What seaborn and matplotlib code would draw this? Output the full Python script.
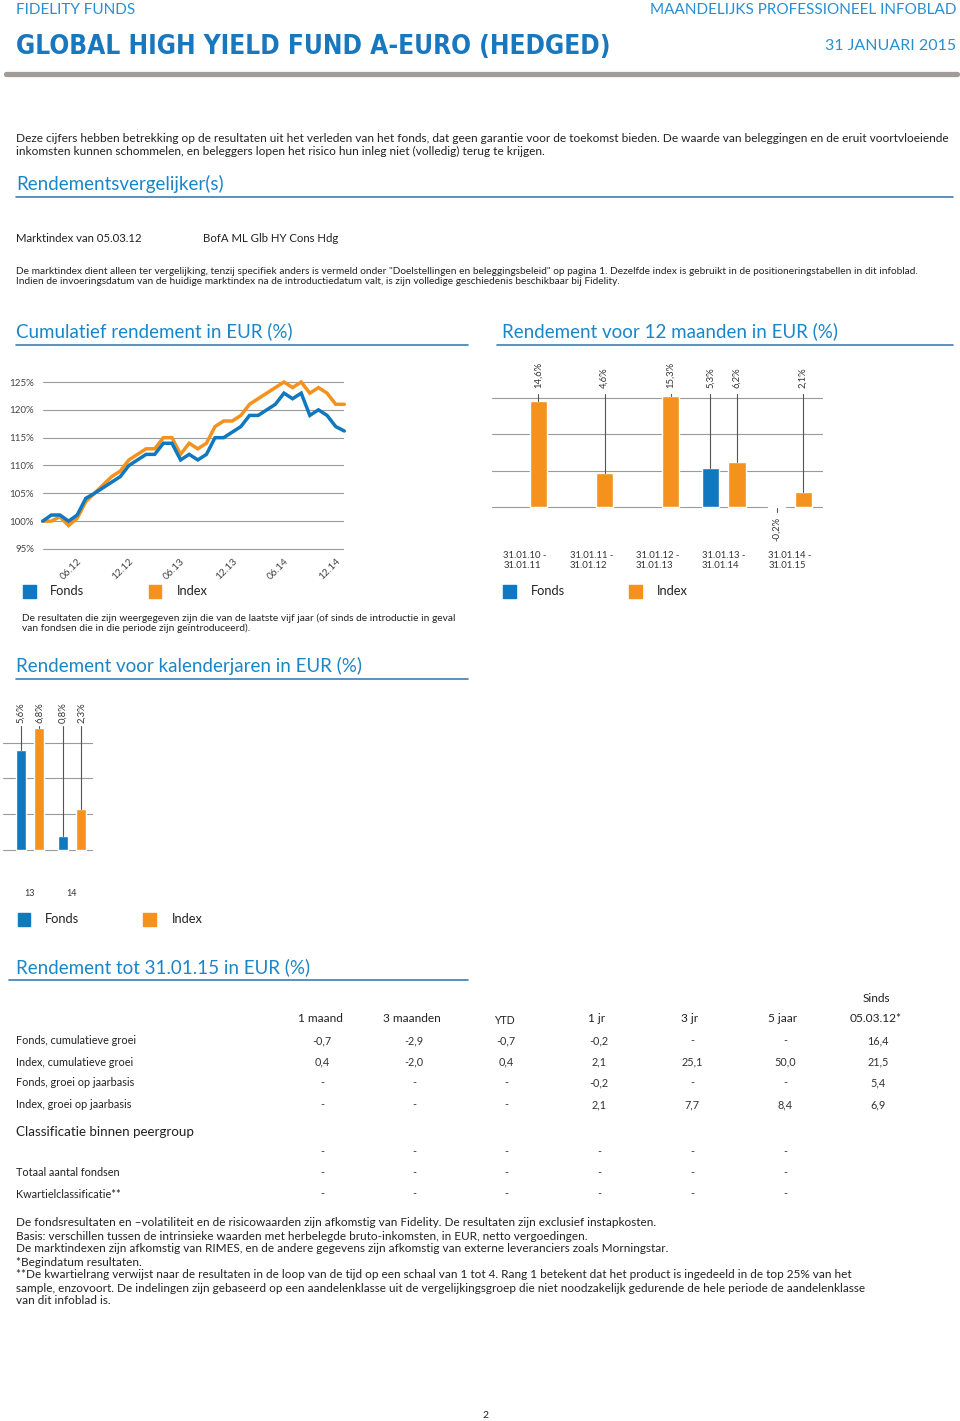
import numpy as np
import pandas as pd
import matplotlib
matplotlib.use("Agg")
import matplotlib.pyplot as plt
import seaborn as sns
from matplotlib import font_manager as fm
from matplotlib.patches import Rectangle
from matplotlib.lines import Line2D

# ---------------- data ----------------
cum_months = pd.period_range("2012-02", periods=36, freq="M")
fund_cum = [100.0, 101.1, 101.1, 100.0, 101.1, 104.1, 105.0, 106.0, 107.0, 108.0,
            110.0, 111.0, 112.0, 112.0, 114.0, 114.0, 111.0, 112.0, 111.0, 112.0,
            115.0, 115.0, 116.0, 117.0, 119.0, 119.0, 120.0, 121.0, 123.0, 122.0,
            123.0, 119.0, 120.0, 119.0, 117.0, 116.2]
index_cum = [100.0, 100.0, 100.8, 99.2, 100.5, 103.5, 105.0, 106.5, 108.0, 109.0,
             111.0, 112.0, 113.0, 113.0, 115.0, 115.0, 112.0, 114.0, 113.0, 114.0,
             117.0, 118.0, 118.0, 119.0, 121.0, 122.0, 123.0, 124.0, 125.0, 124.0,
             125.0, 123.0, 124.0, 123.0, 121.0, 121.0]
cum_yticks = [95, 100, 105, 110, 115, 120, 125]

periods_12m = ["31.01.10 -\n31.01.11", "31.01.11 -\n31.01.12", "31.01.12 -\n31.01.13",
               "31.01.13 -\n31.01.14", "31.01.14 -\n31.01.15"]
fund_12m = [np.nan, np.nan, np.nan, 5.3, -0.2]
index_12m = [14.6, 4.6, 15.3, 6.2, 2.1]

cal_years = ["13", "14"]
fund_cal = [5.6, 0.8]
index_cal = [6.8, 2.3]

table_cols = ["1 maand", "3 maanden", "YTD", "1 jr", "3 jr", "5 jaar", "Sinds\n05.03.12*"]
row_labels = ["Fonds, cumulatieve groei", "Index, cumulatieve groei",
              "Fonds, groei op jaarbasis", "Index, groei op jaarbasis"]
row_fund_cum = ["-0,7", "-2,9", "-0,7", "-0,2", "-", "-", "16,4"]
row_index_cum = ["0,4", "-2,0", "0,4", "2,1", "25,1", "50,0", "21,5"]
row_fund_ann = ["-", "-", "-", "-0,2", "-", "-", "5,4"]
row_index_ann = ["-", "-", "-", "2,1", "7,7", "8,4", "6,9"]
peer_labels = ["", "Totaal aantal fondsen", "Kwartielclassificatie**"]
peer_values = [["-"] * 6, ["-"] * 6, ["-"] * 6]

# ---------------- style ----------------
W, H = 960, 1421
sns.set_theme(style="white")
plt.rcParams["font.family"] = ["Lato", "DejaVu Sans"]
plt.rcParams["axes.unicode_minus"] = False

BLUE = "#0f78be"
ORANGE = "#f5921e"
HEAD = "#1a86c8"
TXT = "#222222"
GRID = "#9a9a9a"
LEAD = "#555555"

fig = plt.figure(figsize=(W / 100, H / 100), dpi=100)
fig.patch.set_facecolor("white")
renderer = fig.canvas.get_renderer()


def ax_px(l, t, w, h):
    return fig.add_axes([l / W, 1 - (t + h) / H, w / W, h / H])


def ftext(x, y, s, **kw):
    kw.setdefault("va", "center_baseline")
    kw.setdefault("color", TXT)
    return fig.text(x / W, 1 - y / H, s, **kw)


def hline(x0, x1, y, color, lw):
    fig.add_artist(Line2D([x0 / W, x1 / W], [1 - y / H, 1 - y / H], color=color, lw=lw))


def fit(t, target_w):
    bb = t.get_window_extent(renderer)
    t.set_fontsize(t.get_fontsize() * target_w / bb.width)
    return t.get_fontsize()


def square(x0, y0, size, color):
    fig.add_artist(Rectangle((x0 / W, 1 - (y0 + size) / H), size / W, size / H,
                             color=color, transform=fig.transFigure))


def clean(ax):
    for s in ax.spines.values():
        s.set_visible(False)
    ax.set_xlabel("")
    ax.set_ylabel("")
    ax.set_facecolor("none")


def pick_condensed():
    order = {"ultra-condensed": 0, "extra-condensed": 1, "condensed": 2, "semi-condensed": 3}
    best = None
    for f in fm.fontManager.ttflist:
        w = f.weight if isinstance(f.weight, int) else {"bold": 700, "heavy": 800, "black": 900}.get(str(f.weight), 400)
        st = str(f.stretch)
        nm = f.name
        rank = order.get(st, 5 if ("Narrow" in nm or "Condensed" in nm) else None)
        if rank is None or w < 600:
            continue
        if best is None or rank < best[0]:
            best = (rank, f.fname)
    if best:
        return fm.FontProperties(fname=best[1])
    return fm.FontProperties(family="Roboto", weight="bold")


# ---------------- header ----------------
ftext(16, 9, "FIDELITY FUNDS", fontsize=11, color="#2a8fd0", fontweight="normal")
ftext(956, 9, "MAANDELIJKS PROFESSIONEEL INFOBLAD", fontsize=11, color="#2a8fd0",
      fontweight="normal", ha="right")
ftext(956, 45, "31 JANUARI 2015", fontsize=11.5, color="#2a8fd0", fontweight="normal", ha="right")
title_fp = pick_condensed()
tt = fig.text(16 / W, 1 - 54 / H, "GLOBAL HIGH YIELD FUND A-EURO (HEDGED)",
              fontproperties=title_fp, fontsize=26, color="#1877bd", va="baseline")
fit(tt, 597)
fig.add_artist(Line2D([6 / W, 957 / W], [1 - 73.5 / H] * 2, color="#a29c98", lw=3.8))

# ---------------- intro text ----------------
t = ftext(16, 138, "Deze cijfers hebben betrekking op de resultaten uit het verleden van het fonds, dat geen "
          "garantie voor de toekomst bieden. De waarde van beleggingen en de eruit voortvloeiende", fontsize=7.5)
fs_intro = fit(t, 927)
ftext(16, 150, "inkomsten kunnen schommelen, en beleggers lopen het risico hun inleg niet (volledig) "
      "terug te krijgen.", fontsize=fs_intro)

# headings
h = ftext(16, 182, "Rendementsvergelijker(s)", fontsize=13, color=HEAD)
fs_head = fit(h, 206)
hline(16, 953, 197, "#3b7fb6", 1.2)

ftext(16, 237, "Marktindex van 05.03.12", fontsize=8.2)
ftext(203, 237, "BofA ML Glb HY Cons Hdg", fontsize=8.2)
t = ftext(16, 270, "De marktindex dient alleen ter vergelijking, tenzij specifiek anders is vermeld onder "
          "\"Doelstellingen en beleggingsbeleid\" op pagina 1. Dezelfde index is gebruikt in de "
          "positioneringstabellen in dit infoblad.", fontsize=6.8)
fs_small = fit(t, 899)
ftext(16, 281, "Indien de invoeringsdatum van de huidige marktindex na de introductiedatum valt, is zijn "
      "volledige geschiedenis beschikbaar bij Fidelity.", fontsize=fs_small)

ftext(16, 330, "Cumulatief rendement in EUR (%)", fontsize=fs_head, color=HEAD)
hline(16, 468, 345, "#3b7fb6", 1.2)
ftext(502, 330, "Rendement voor 12 maanden in EUR (%)", fontsize=fs_head, color=HEAD)
hline(497, 953, 345, "#3b7fb6", 1.2)

# ---------------- cumulative line chart ----------------
ax1 = ax_px(42.7, 370.9, 301.6, 189.2)
df_cum = pd.DataFrame({
    "pos": np.concatenate([np.arange(len(index_cum)), np.arange(len(fund_cum))]),
    "value": index_cum + fund_cum,
    "series": ["Index"] * len(index_cum) + ["Fonds"] * len(fund_cum),
})
sns.lineplot(data=df_cum, x="pos", y="value", hue="series", hue_order=["Index", "Fonds"],
             palette={"Fonds": BLUE, "Index": ORANGE}, lw=2.5, legend=False,
             errorbar=None, ax=ax1)
for ln in ax1.lines:
    ln.set_clip_on(False)
    ln.set_solid_joinstyle("miter")
ax1.set_xlim(0, len(fund_cum) - 1)
ax1.set_ylim(93, 127)
ax1.set_yticks(cum_yticks)
ax1.set_yticklabels([f"{v}%" for v in cum_yticks])
tick_pos = [i for i, p in enumerate(cum_months) if p.month in (6, 12)]
ax1.set_xticks(tick_pos)
ax1.set_xticklabels([cum_months[i].strftime("%m.%y") for i in tick_pos])
clean(ax1)
ax1.yaxis.grid(True, color=GRID, lw=0.8)
ax1.xaxis.grid(False)
ax1.set_axisbelow(True)
ax1.tick_params(axis="y", length=0, pad=6.3, labelsize=7, labelcolor="#444444")
ax1.tick_params(axis="x", length=0, pad=-2.2, labelsize=7.3, labelcolor="#444444")
for lbl in ax1.get_xticklabels():
    lbl.set_rotation(45)
    lbl.set_ha("right")
    lbl.set_va("top")
    lbl.set_rotation_mode("anchor")

square(23, 585, 12.5, BLUE)
ftext(50, 591, "Fonds", fontsize=9.3, va="center")
square(148.5, 585, 12.5, ORANGE)
ftext(177, 591, "Index", fontsize=9.3, va="center")

# ---------------- 12 month bar chart ----------------
ax2 = ax_px(492, 355, 331, 195)
df12 = pd.DataFrame({
    "period": periods_12m * 2,
    "series": ["Fonds"] * len(fund_12m) + ["Index"] * len(index_12m),
    "value": fund_12m + index_12m,
})
sns.barplot(data=df12, x="period", y="value", hue="series", order=periods_12m,
            hue_order=["Fonds", "Index"], palette={"Fonds": BLUE, "Index": ORANGE},
            width=0.8, gap=0.35, errorbar=None, legend=False, saturation=1, ax=ax2)
ax2.set_xlim(-0.5, len(periods_12m) - 0.5)
ax2.set_ylim(-5.99, 20.98)
ax2.set_yticks([0, 5, 10, 15])
ax2.set_yticklabels([])
clean(ax2)
ax2.yaxis.grid(True, color=GRID, lw=0.8)
ax2.xaxis.grid(False)
ax2.set_axisbelow(True)
ax2.tick_params(axis="x", length=0, pad=0.5, labelsize=6.8, labelcolor="#333333")
ax2.tick_params(axis="y", length=0)
for lbl in ax2.get_xticklabels():
    lbl.set_multialignment("left")
for i, (fv, iv) in enumerate(zip(fund_12m, index_12m)):
    for v, off in ((fv, -0.2), (iv, 0.2)):
        if np.isnan(v):
            continue
        x = i + off
        s = f"{v:.1f}%".replace(".", ",")
        if v >= 0:
            ax2.plot([x, x], [v, 15.6], color=LEAD, lw=0.8, zorder=1)
            ax2.text(x, 16.4, s, rotation=90, ha="center", va="bottom", fontsize=6.8, color="#333333")
        else:
            ax2.plot([x, x], [v, -0.7], color=LEAD, lw=0.8, zorder=1)
            ax2.text(x, -1.4, s, rotation=90, ha="center", va="top", fontsize=6.8, color="#333333")

square(503, 585, 12.5, BLUE)
ftext(531, 591, "Fonds", fontsize=9.3, va="center")
square(629, 585, 12.5, ORANGE)
ftext(657, 591, "Index", fontsize=9.3, va="center")

t = ftext(22, 617, "De resultaten die zijn weergegeven zijn die van de laatste vijf jaar (of sinds de "
          "introductie in geval", fontsize=6.8)
fs_res = fit(t, 431)
ftext(22, 627, "van fondsen die in die periode zijn geïntroduceerd).", fontsize=fs_res)

ftext(16, 664, "Rendement voor kalenderjaren in EUR (%)", fontsize=fs_head, color=HEAD)
hline(16, 468, 679, "#3b7fb6", 1.2)

# ---------------- calendar year bar chart ----------------
ax3 = ax_px(3, 695, 90, 185)
dfc = pd.DataFrame({
    "year": cal_years * 2,
    "series": ["Fonds"] * len(fund_cal) + ["Index"] * len(index_cal),
    "value": fund_cal + index_cal,
})
sns.barplot(data=dfc, x="year", y="value", hue="series", order=cal_years,
            hue_order=["Fonds", "Index"], palette={"Fonds": BLUE, "Index": ORANGE},
            width=0.88, gap=0.46, errorbar=None, legend=False, saturation=1, ax=ax3)
ax3.set_xlim(-0.643, 1.5)
ax3.set_ylim(-1.676, 8.659)
ax3.set_yticks([0, 2, 4, 6])
ax3.set_yticklabels([])
clean(ax3)
ax3.yaxis.grid(True, color=GRID, lw=0.8)
ax3.xaxis.grid(False)
ax3.set_axisbelow(True)
ax3.tick_params(axis="x", length=0, pad=6.5, labelsize=6.5, labelcolor="#333333")
ax3.tick_params(axis="y", length=0)
for i, (fv, iv) in enumerate(zip(fund_cal, index_cal)):
    for v, off in ((fv, -0.22), (iv, 0.22)):
        x = i + off
        s = f"{v:.1f}%".replace(".", ",")
        ax3.plot([x, x], [v, 6.93], color=LEAD, lw=0.8, zorder=1)
        ax3.text(x, 7.08, s, rotation=90, ha="center", va="bottom", fontsize=6.8, color="#333333")

square(17.5, 913, 12.5, BLUE)
ftext(45, 919, "Fonds", fontsize=9.3, va="center")
square(143, 913, 12.5, ORANGE)
ftext(172, 919, "Index", fontsize=9.3, va="center")

# ---------------- table ----------------
ftext(16, 966, "Rendement tot 31.01.15 in EUR (%)", fontsize=fs_head, color=HEAD)
hline(9, 468, 980, "#3b7fb6", 1.2)

col_x = [320, 412, 504, 597, 690, 783, 876]
for cx, c in zip(col_x, table_cols):
    if "\n" in c:
        a, b = c.split("\n")
        ftext(cx, 997, a, fontsize=8.6, ha="center")
        ftext(cx, 1017, b, fontsize=8.6, ha="center")
    elif c == "YTD":
        ftext(cx, 1020, c, fontsize=7.6, ha="center")
    else:
        ftext(cx, 1017, c, fontsize=8.6, ha="center")

row_y = [1040, 1061, 1082, 1104]
for y, lab, vals in zip(row_y, row_labels,
                        [row_fund_cum, row_index_cum, row_fund_ann, row_index_ann]):
    ftext(16, y, lab, fontsize=7.8)
    for cx, v in zip(col_x, vals):
        ftext(cx + 2, y, v, fontsize=7.8, ha="center", color="#333333")

ftext(16, 1131, "Classificatie binnen peergroup", fontsize=9.6)
for y, lab, vals in zip([1151, 1172, 1193], peer_labels, peer_values):
    if lab:
        ftext(16, y, lab, fontsize=7.8)
    for cx, v in zip(col_x[:6], vals):
        ftext(cx + 2, y, v, fontsize=7.8, ha="center", color="#333333")

# ---------------- footnotes ----------------
foot = [
    "De fondsresultaten en \u2013volatiliteit en de risicowaarden zijn afkomstig van Fidelity. "
    "De resultaten zijn exclusief instapkosten.",
    "Basis: verschillen tussen de intrinsieke waarden met herbelegde bruto-inkomsten, in EUR, netto vergoedingen.",
    "De marktindexen zijn afkomstig van RIMES, en de andere gegevens zijn afkomstig van externe "
    "leveranciers zoals Morningstar.",
    "*Begindatum resultaten.",
    "**De kwartielrang verwijst naar de resultaten in de loop van de tijd op een schaal van 1 tot 4. "
    "Rang 1 betekent dat het product is ingedeeld in de top 25% van het",
    "sample, enzovoort. De indelingen zijn gebaseerd op een aandelenklasse uit de vergelijkingsgroep "
    "die niet noodzakelijk gedurende de hele periode de aandelenklasse",
    "van dit infoblad is.",
]
foot_y = [1222, 1235, 1248, 1261, 1274, 1287, 1299]
t4 = ftext(16, foot_y[4], foot[4], fontsize=7.8)
fs_foot = fit(t4, 836)
for i, (y, s) in enumerate(zip(foot_y, foot)):
    if i != 4:
        ftext(16, y, s, fontsize=fs_foot)

ftext(485, 1414, "2", fontsize=7.5, ha="center")

fig.savefig("out.png", dpi=100, facecolor="white")
